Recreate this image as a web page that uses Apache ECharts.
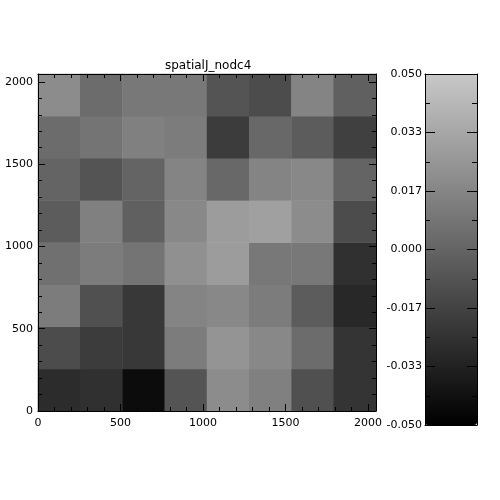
<!DOCTYPE html>
<html>
<head>
<meta charset="utf-8">
<script src="https://cdn.jsdelivr.net/npm/echarts@6/dist/echarts.min.js"></script>
<style>
  html, body { margin: 0; background: #fff; }
  #main { width: 500px; height: 500px; }
</style>
</head>
<body>
<div id="main"></div>
<script>
// 8 x 8 bins, 256 px each
const xBins = ['0', '1', '2', '3', '4', '5', '6', '7'];
const yBins = ['0', '1', '2', '3', '4', '5', '6', '7'];

// values per row, bottom row first
const row0 = [-0.028, -0.026, -0.044, -0.008, 0.020, 0.014, -0.010, -0.024];
const row1 = [-0.012, -0.020, -0.022, 0.012, 0.024, 0.018, 0.004, -0.024];
const row2 = [0.012, -0.010, -0.022, 0.016, 0.018, 0.012, -0.004, -0.030];
const row3 = [0.006, 0.012, 0.008, 0.022, 0.028, 0.010, 0.010, -0.026];
const row4 = [-0.004, 0.014, -0.002, 0.018, 0.028, 0.030, 0.020, -0.012];
const row5 = [0.000, -0.008, 0.000, 0.016, 0.002, 0.016, 0.018, 0.000];
const row6 = [0.004, 0.008, 0.014, 0.012, -0.020, 0.002, -0.004, -0.018];
const row7 = [0.020, 0.004, 0.010, 0.010, -0.008, -0.012, 0.016, -0.002];
const rows = [row0, row1, row2, row3, row4, row5, row6, row7];

// axes
const pixRange = [0, 2048];
const pixMajor = 500;
const pixMinor = 100;
const cbRange = [-0.05, 0.05];
const cbMajor = 0.1 / 6;
const cbMinor = 0.1 / 12;

const heat = [];
rows.forEach((r, j) => r.forEach((v, i) => heat.push([i, j, v])));

const font = { fontFamily: 'DejaVu Sans', fontSize: 11, color: '#000' };
const black = { color: '#000', width: 1 };

function pixAxis(dim, pos, major, withLabel) {
  return {
    type: 'value', gridIndex: 0, position: pos,
    min: pixRange[0], max: pixRange[1],
    interval: major ? pixMajor : pixMinor,
    axisLine: { show: major, onZero: false, lineStyle: black },
    axisTick: { show: true, inside: true, length: major ? 7 : 4, lineStyle: black },
    axisLabel: {
      show: withLabel, showMaxLabel: false, margin: dim === 'x' ? 7 : 5, ...font,
      formatter: v => String(v)
    },
    splitLine: { show: false },
    z: 5
  };
}

function cbAxis(pos, major, withLabel) {
  return {
    type: 'value', gridIndex: 1, position: pos,
    min: cbRange[0], max: cbRange[1],
    interval: major ? cbMajor : cbMinor,
    axisLine: { show: major, onZero: false, lineStyle: black },
    axisTick: { show: true, inside: true, length: major ? 10 : 5, lineStyle: black },
    axisLabel: {
      show: withLabel, margin: 3, ...font,
      formatter: v => (Math.abs(v) < 1e-9 ? 0 : v).toFixed(3)
    },
    splitLine: { show: false },
    z: 10
  };
}

function cbEdge(pos) {
  return {
    type: 'value', gridIndex: 1, position: pos, min: 0, max: 1,
    axisLine: { show: true, onZero: false, lineStyle: black },
    axisTick: { show: false }, axisLabel: { show: false },
    splitLine: { show: false }, z: 10
  };
}

const chart = echarts.init(document.getElementById('main'), null, { renderer: 'canvas' });
chart.setOption({
  backgroundColor: '#fff',
  animation: false,
  title: {
    text: 'spatialJ_nodc4',
    left: 160, top: 55,
    textStyle: { fontFamily: 'DejaVu Sans', fontSize: 12, fontWeight: 'normal', color: '#000' }
  },
  grid: [
    { left: 38, top: 74, width: 338, height: 337 },
    { left: 425, top: 74, width: 52, height: 351 }
  ],
  xAxis: [
    { type: 'category', gridIndex: 0, data: xBins, show: false },
    pixAxis('x', 'bottom', true, true),
    pixAxis('x', 'bottom', false, false),
    pixAxis('x', 'top', true, false),
    pixAxis('x', 'top', false, false),
    cbEdge('bottom'),
    cbEdge('top')
  ],
  yAxis: [
    { type: 'category', gridIndex: 0, data: yBins, show: false },
    pixAxis('y', 'left', true, true),
    pixAxis('y', 'left', false, false),
    pixAxis('y', 'right', true, false),
    pixAxis('y', 'right', false, false),
    cbAxis('left', true, true),
    cbAxis('left', false, false),
    cbAxis('right', true, false),
    cbAxis('right', false, false)
  ],
  visualMap: {
    type: 'continuous',
    min: cbRange[0], max: cbRange[1],
    seriesIndex: 0,
    calculable: false,
    orient: 'vertical',
    left: 425, top: 74,
    itemWidth: 52, itemHeight: 351,
    padding: 0,
    inRange: { color: ['#000000', '#c8c8c8'] }
  },
  series: [{
    type: 'heatmap',
    xAxisIndex: 0, yAxisIndex: 0,
    data: heat,
    itemStyle: { borderWidth: 0 },
    emphasis: { disabled: true }
  }]
});
</script>
</body>
</html>
